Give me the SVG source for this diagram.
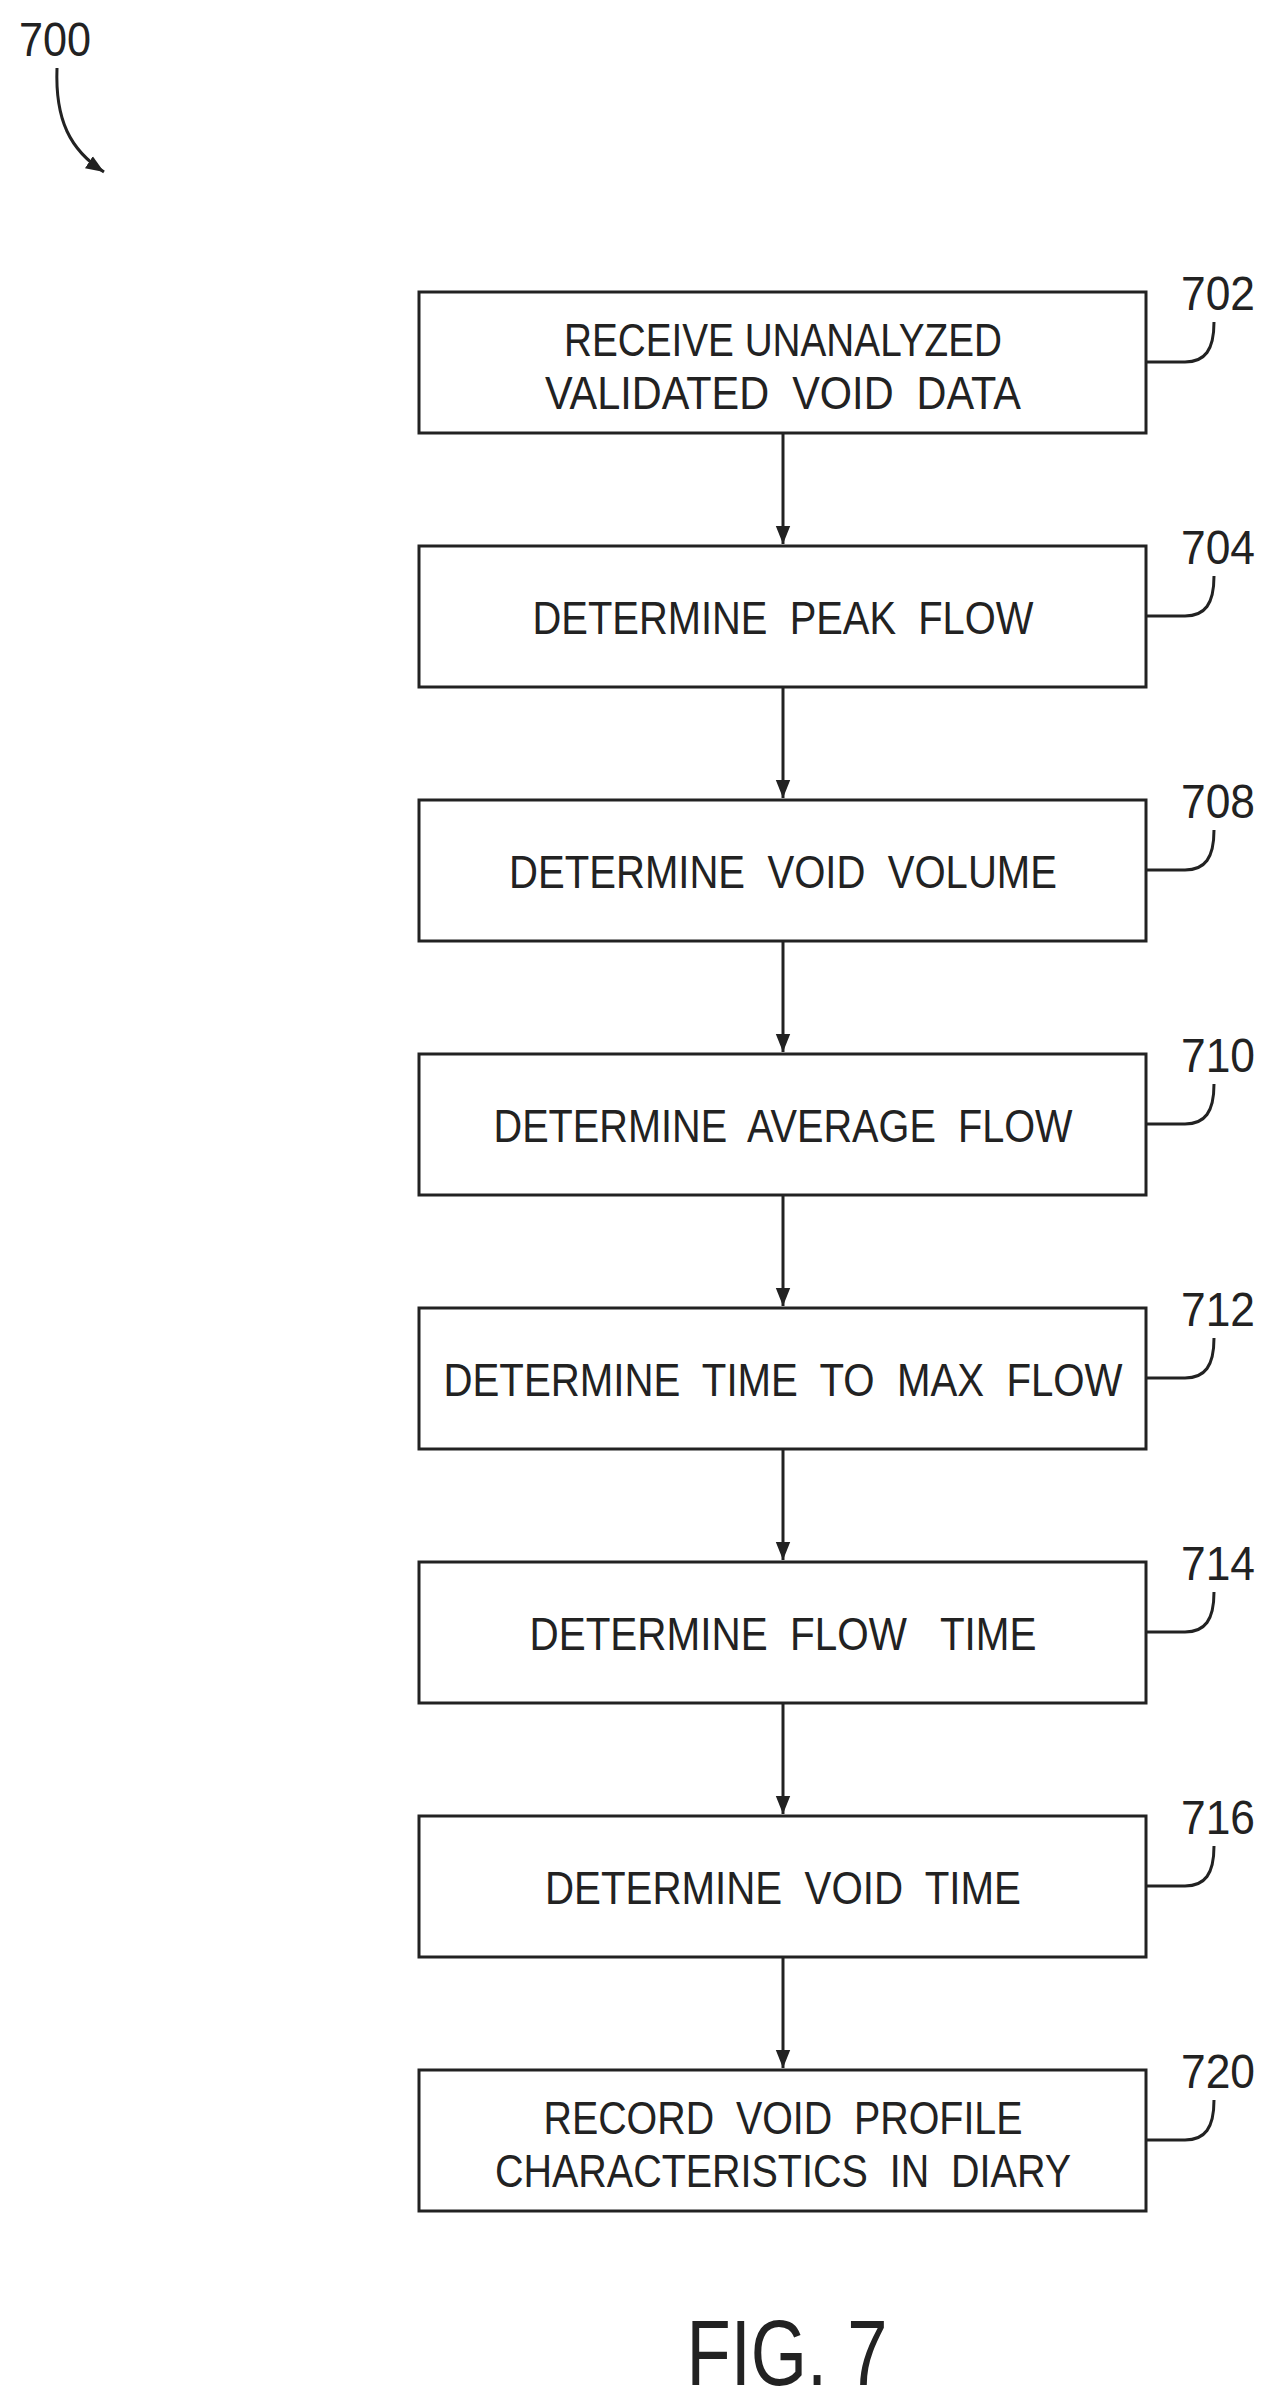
<svg xmlns="http://www.w3.org/2000/svg" width="1275" height="2406" viewBox="0 0 1275 2406">
<style>
.box{fill:#fff;stroke:#222;stroke-width:3}
.t{font-family:"Liberation Sans",sans-serif;font-size:47px;fill:#222;text-anchor:middle;white-space:pre}
.ref{font-family:"Liberation Sans",sans-serif;font-size:48px;fill:#222;text-anchor:middle}
.ln{fill:none;stroke:#222;stroke-width:3}
</style>
<defs><marker id="ah" viewBox="0 0 10 10" refX="10" refY="5" markerWidth="6" markerHeight="6" orient="auto" markerUnits="strokeWidth"><path d="M0,1L10,5L0,9z" fill="#222"/></marker></defs>
<rect width="1275" height="2406" fill="#fff"/>
<g id="label700"><text class="ref" x="55" y="56" textLength="72" lengthAdjust="spacingAndGlyphs">700</text><path class="ln" d="M57,68 C55,120 70,150 104,172" marker-end="url(#ah)"/></g>
<g id="connectors">
<line class="ln" x1="783" y1="433" x2="783" y2="544" marker-end="url(#ah)"/>
<line class="ln" x1="783" y1="687" x2="783" y2="798" marker-end="url(#ah)"/>
<line class="ln" x1="783" y1="941" x2="783" y2="1052" marker-end="url(#ah)"/>
<line class="ln" x1="783" y1="1195" x2="783" y2="1306" marker-end="url(#ah)"/>
<line class="ln" x1="783" y1="1449" x2="783" y2="1560" marker-end="url(#ah)"/>
<line class="ln" x1="783" y1="1703" x2="783" y2="1814" marker-end="url(#ah)"/>
<line class="ln" x1="783" y1="1957" x2="783" y2="2068" marker-end="url(#ah)"/>
</g>
<g id="n702"><rect class="box" x="419" y="292" width="727" height="141"/><text class="t" x="783" y="356" textLength="438" lengthAdjust="spacingAndGlyphs">RECEIVE UNANALYZED</text><text class="t" x="783" y="409" textLength="476" lengthAdjust="spacingAndGlyphs">VALIDATED  VOID  DATA</text><path class="ln" d="M1146,362 H1185 C1205,362 1214,350 1214,322"/><text class="ref" x="1218" y="310" textLength="74" lengthAdjust="spacingAndGlyphs">702</text></g>
<g id="n704"><rect class="box" x="419" y="546" width="727" height="141"/><text class="t" x="783" y="634" textLength="501" lengthAdjust="spacingAndGlyphs">DETERMINE  PEAK  FLOW</text><path class="ln" d="M1146,616 H1185 C1205,616 1214,604 1214,576"/><text class="ref" x="1218" y="564" textLength="74" lengthAdjust="spacingAndGlyphs">704</text></g>
<g id="n708"><rect class="box" x="419" y="800" width="727" height="141"/><text class="t" x="783" y="888" textLength="548" lengthAdjust="spacingAndGlyphs">DETERMINE  VOID  VOLUME</text><path class="ln" d="M1146,870 H1185 C1205,870 1214,858 1214,830"/><text class="ref" x="1218" y="818" textLength="74" lengthAdjust="spacingAndGlyphs">708</text></g>
<g id="n710"><rect class="box" x="419" y="1054" width="727" height="141"/><text class="t" x="783" y="1142" textLength="579" lengthAdjust="spacingAndGlyphs">DETERMINE  AVERAGE  FLOW</text><path class="ln" d="M1146,1124 H1185 C1205,1124 1214,1112 1214,1084"/><text class="ref" x="1218" y="1072" textLength="74" lengthAdjust="spacingAndGlyphs">710</text></g>
<g id="n712"><rect class="box" x="419" y="1308" width="727" height="141"/><text class="t" x="783" y="1396" textLength="679" lengthAdjust="spacingAndGlyphs">DETERMINE  TIME  TO  MAX  FLOW</text><path class="ln" d="M1146,1378 H1185 C1205,1378 1214,1366 1214,1338"/><text class="ref" x="1218" y="1326" textLength="74" lengthAdjust="spacingAndGlyphs">712</text></g>
<g id="n714"><rect class="box" x="419" y="1562" width="727" height="141"/><text class="t" x="783" y="1650" textLength="507" lengthAdjust="spacingAndGlyphs">DETERMINE  FLOW   TIME</text><path class="ln" d="M1146,1632 H1185 C1205,1632 1214,1620 1214,1592"/><text class="ref" x="1218" y="1580" textLength="74" lengthAdjust="spacingAndGlyphs">714</text></g>
<g id="n716"><rect class="box" x="419" y="1816" width="727" height="141"/><text class="t" x="783" y="1904" textLength="476" lengthAdjust="spacingAndGlyphs">DETERMINE  VOID  TIME</text><path class="ln" d="M1146,1886 H1185 C1205,1886 1214,1874 1214,1846"/><text class="ref" x="1218" y="1834" textLength="74" lengthAdjust="spacingAndGlyphs">716</text></g>
<g id="n720"><rect class="box" x="419" y="2070" width="727" height="141"/><text class="t" x="783" y="2134" textLength="479" lengthAdjust="spacingAndGlyphs">RECORD  VOID  PROFILE</text><text class="t" x="783" y="2187" textLength="576" lengthAdjust="spacingAndGlyphs">CHARACTERISTICS  IN  DIARY</text><path class="ln" d="M1146,2140 H1185 C1205,2140 1214,2128 1214,2100"/><text class="ref" x="1218" y="2088" textLength="74" lengthAdjust="spacingAndGlyphs">720</text></g>
<text x="787" y="2385" textLength="201" lengthAdjust="spacingAndGlyphs" style="font-family:'Liberation Sans',sans-serif;font-size:92px;fill:#222;text-anchor:middle">FIG. 7</text>
</svg>
